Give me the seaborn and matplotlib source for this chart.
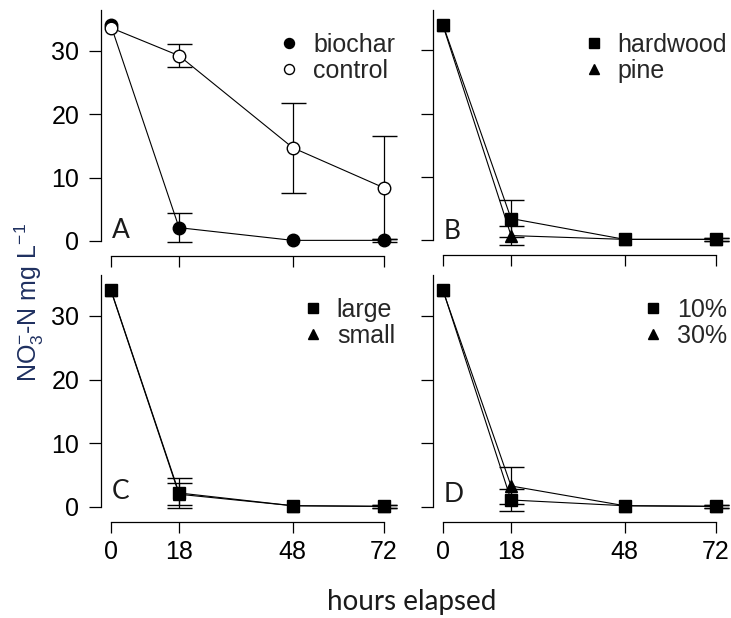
import numpy as np
import pandas as pd
import matplotlib
matplotlib.use("Agg")
import matplotlib.pyplot as plt
from matplotlib.lines import Line2D
import seaborn as sns

# Sampling times (hours elapsed)
hours = [0, 18, 48, 72]

# Panel A: biochar vs. control
biochar = [34.0, 2.1, 0.1, 0.1]
biochar_se = [0.0, 2.3, 0.0, 0.2]
control = [33.6, 29.2, 14.7, 8.4]
control_se = [0.0, 1.8, 7.1, 8.1]

# Panel B: feedstock
hardwood = [34.1, 3.4, 0.1, 0.1]
hardwood_se = [0.0, 2.9, 0.0, 0.2]
pine = [34.0, 0.7, 0.1, 0.1]
pine_se = [0.0, 1.5, 0.0, 0.2]

# Panel C: particle size
large = [34.1, 2.2, 0.2, 0.1]
large_se = [0.0, 2.4, 0.0, 0.2]
small = [34.0, 2.0, 0.2, 0.1]
small_se = [0.0, 1.7, 0.0, 0.2]

# Panel D: application rate
rate10 = [34.1, 1.1, 0.2, 0.1]
rate10_se = [0.0, 1.7, 0.0, 0.2]
rate30 = [34.0, 3.3, 0.2, 0.1]
rate30_se = [0.0, 2.9, 0.0, 0.2]

y_ticks = [0, 10, 20, 30]
panel_letters = ["A", "B", "C", "D"]

sns.set_style("ticks")
plt.rcParams["font.family"] = ["Liberation Sans", "DejaVu Sans"]
plt.rcParams["mathtext.fontset"] = "custom"
plt.rcParams["mathtext.rm"] = "Liberation Sans"
plt.rcParams["mathtext.it"] = "Liberation Sans:italic"

W, H = 731, 618
fig = plt.figure(figsize=(W / 100, H / 100), dpi=100)

XMIN, XMAX = -2.6, 75.0
YMAX = 36.4


def px_axes(left, top, right, bottom):
    return fig.add_axes([left / W, 1 - bottom / H, (right - left) / W, (bottom - top) / H])


axes = [
    px_axes(101, 10, 395, 241),
    px_axes(433, 10, 727, 240),
    px_axes(101, 275, 395, 507),
    px_axes(433, 275, 727, 507),
]

panels = [
    [("biochar", biochar, biochar_se, "o", "black", 9),
     ("control", control, control_se, "o", "white", 9)],
    [("pine", pine, pine_se, "^", "black", 9),
     ("hardwood", hardwood, hardwood_se, "s", "black", 8.5)],
    [("small", small, small_se, "^", "black", 9),
     ("large", large, large_se, "s", "black", 8.5)],
    [("10%", rate10, rate10_se, "s", "black", 8.5),
     ("30%", rate30, rate30_se, "^", "black", 9)],
]
legend_order = [["biochar", "control"], ["hardwood", "pine"], ["large", "small"], ["10%", "30%"]]
letter_pos = [(0.3, 1.7), (0.3, 1.4), (0.3, 2.5), (0.3, 1.9)]

for i, (ax, series) in enumerate(zip(axes, panels)):
    handles = {}
    for name, vals, se, mk, face, ms in series:
        df = pd.DataFrame({"hours": hours, "nitrate": vals})
        sns.lineplot(data=df, x="hours", y="nitrate", ax=ax, color="black",
                     linewidth=0.8, marker=mk, markersize=ms,
                     markerfacecolor=face, markeredgecolor="black",
                     markeredgewidth=1.0, clip_on=False, zorder=3)
        xs = [h for h, s in zip(hours, se) if s > 0]
        ys = [v for v, s in zip(vals, se) if s > 0]
        es = [s for s in se if s > 0]
        ax.errorbar(xs, ys, yerr=es, fmt="none", ecolor="black",
                    elinewidth=0.9, capsize=9, capthick=1.0, clip_on=False, zorder=2)
        handles[name] = Line2D([], [], linestyle="none", marker=mk, markersize=ms * 0.8,
                               markerfacecolor=face, markeredgecolor="black",
                               markeredgewidth=1.0)
    order = legend_order[i]
    ax.legend([handles[n] for n in order], order, loc="upper right",
              bbox_to_anchor=(1.0, 0.902), frameon=False, fontsize=18,
              handlelength=0.8, handletextpad=0.55, labelspacing=0.08,
              borderpad=0.0, borderaxespad=0.0)

    ax.set_xlim(XMIN, XMAX)
    ax.set_ylim(0, YMAX)
    ax.set_xticks(hours)
    ax.set_yticks(y_ticks)
    ax.spines["top"].set_visible(False)
    ax.spines["right"].set_visible(False)
    ax.spines["bottom"].set_position(("outward", 11))
    ax.spines["bottom"].set_bounds(0, 72)
    ax.spines["left"].set_bounds(0, YMAX)
    for sp in ("left", "bottom"):
        ax.spines[sp].set_linewidth(0.9)
        ax.spines[sp].set_color("black")
    ax.tick_params(axis="y", direction="out", length=8.5, width=0.9, pad=7,
                   labelsize=18, colors="black")
    ax.tick_params(axis="x", direction="out", length=8, width=0.9, pad=5,
                   labelsize=18, colors="black")
    if i in (1, 3):
        ax.tick_params(axis="y", labelleft=False)
    if i in (0, 1):
        ax.tick_params(axis="x", labelbottom=False)
    ax.set_xlabel("")
    ax.set_ylabel("")
    lx, ly = letter_pos[i]
    ax.text(lx, ly, panel_letters[i], fontsize=19, family=["Lato", "DejaVu Sans"],
            color="#1a1a1a", ha="left", va="center")

fig.text(29 / W, 1 - 303 / H, r"NO$_3^{-}$-N mg L$^{-1}$", rotation=90,
         ha="center", va="center", fontsize=18, color="#1f3060")
fig.text(412 / W, 1 - 602 / H, "hours elapsed", ha="center", va="center",
         fontsize=20, family=["Lato", "DejaVu Sans"], color="#1a1a1a")

fig.savefig("out.png", dpi=100, facecolor="white")
